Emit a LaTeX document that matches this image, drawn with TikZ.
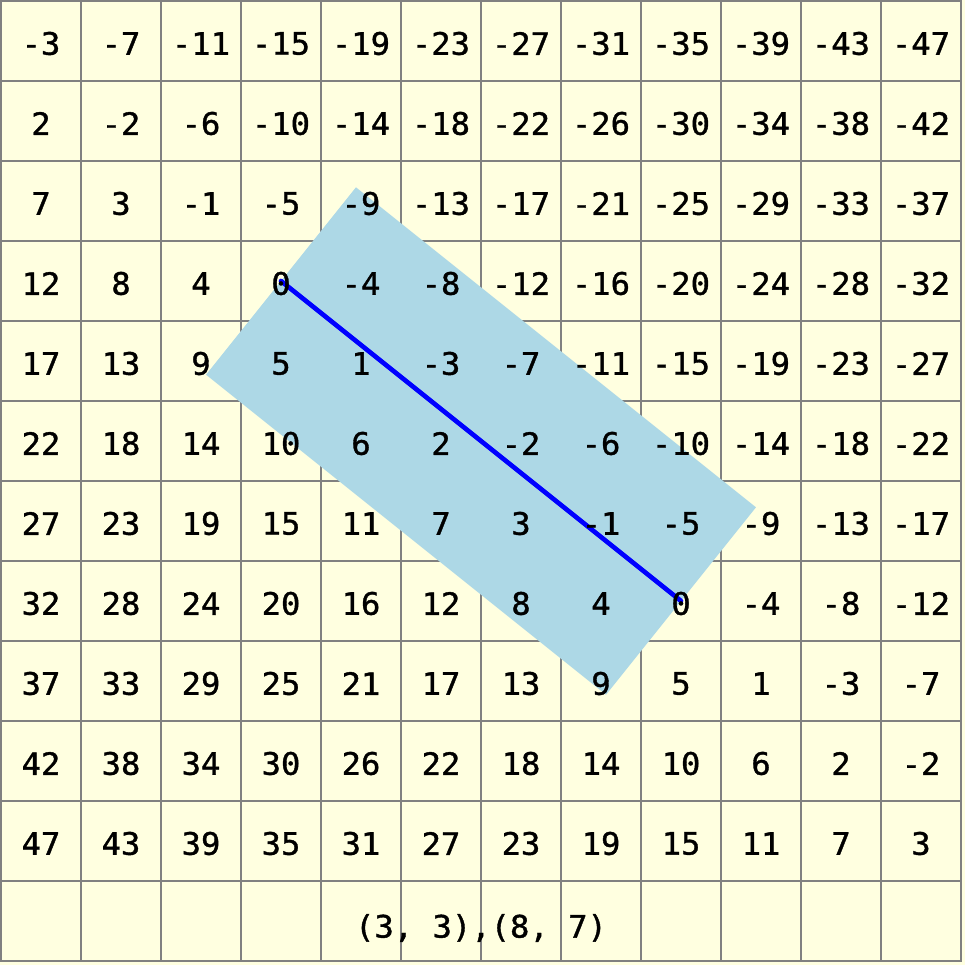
\documentclass[tikz,border=0pt]{standalone}
\usepackage{fontspec}
\setmonofont[FakeStretch=1.04, FakeBold=1.2]{DejaVu Sans Mono}
\usepackage{tikz}
\usetikzlibrary{calc}
\definecolor{paleYellow}{HTML}{FFFFE0}
\definecolor{paleBlue}{HTML}{ADD8E6}
\definecolor{gridGray}{HTML}{808080}
\tikzstyle{cell} = [rectangle, minimum size=2cm, inner sep=0pt, draw=gridGray, line width=0.8pt, fill=paleYellow]
\tikzstyle{num} = [inner sep=0pt, font=\ttfamily\fontsize{22}{26}\selectfont, text=black]
\tikzstyle{band} = [fill=paleBlue]
\tikzstyle{segment} = [line width=3.3pt, draw=blue, line cap=round]

\begin{document}
\begin{tikzpicture}[x=2cm, y=-2cm]
        \fill[paleYellow] (0,0) rectangle (12.0625,12.0625);
        \useasboundingbox (0,0) rectangle (12.0625,12.0625);

        % grid cells
        \foreach \c in {0,...,11}
            \foreach \r in {0,...,11}
                \node (cell-\c-\r) [cell] at (\c+0.5125, \r+0.5125) {};

        % band round the segment
        \fill[band] ($(cell-3-3.center)!3cm!90:(cell-8-7.center)$)
            -- ($(cell-8-7.center)!3cm!-90:(cell-3-3.center)$)
            -- ($(cell-8-7.center)!3cm!90:(cell-3-3.center)$)
            -- ($(cell-3-3.center)!3cm!-90:(cell-8-7.center)$) -- cycle;
        \draw [segment] (cell-3-3.center) -- (cell-8-7.center);

        % values
        \foreach \c in {0,...,11}
            \foreach \r in {0,...,10} {
                \pgfmathtruncatemacro\val{5*\r-4*\c-3}
                \node [num] at ([yshift=-0.0625cm]cell-\c-\r.center) {\val};
            }

        \node (pairs) [num, anchor=center] at (6.0125, 11.6) {(3, 3),(8, 7)};
    \end{tikzpicture}
\end{document}
